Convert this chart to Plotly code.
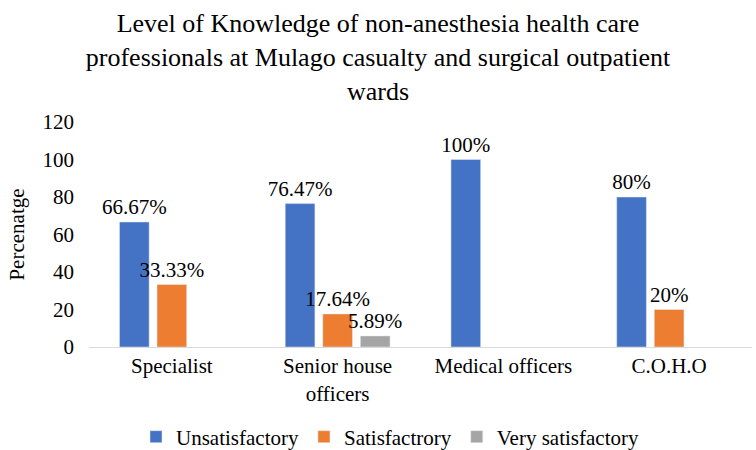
import plotly.graph_objects as go

categories = ["Specialist", "Senior house<br>officers", "Medical officers", "C.O.H.O"]
unsatisfactory = [66.67, 76.47, 100, 80]
satisfactory = [33.33, 17.64, None, 20]
very_satisfactory = [None, 5.89, None, None]

unsat_labels = ["66.67%", "76.47%", "100%", "80%"]
sat_labels = ["33.33%", "17.64%", "", "20%"]
very_labels = ["", "5.89%", "", ""]

y_ticks = [0, 20, 40, 60, 80, 100, 120]

font_name = "Liberation Serif, Times New Roman, serif"

fig = go.Figure()
series = [
    ("Unsatisfactory", unsatisfactory, unsat_labels, "#4472C4"),
    ("Satisfactrory", satisfactory, sat_labels, "#ED7D31"),
    ("Very satisfactory", very_satisfactory, very_labels, "#A5A5A5"),
]
for name, vals, labels, color in series:
    fig.add_trace(
        go.Bar(
            name=name,
            x=categories,
            y=vals,
            text=labels,
            textposition="outside",
            constraintext="none",
            textfont=dict(family=font_name, size=21, color="#000000"),
            marker=dict(color=color),
            cliponaxis=False,
        )
    )

fig.update_layout(
    width=756,
    height=450,
    barmode="group",
    bargap=0.32,
    bargroupgap=0.21,
    plot_bgcolor="white",
    paper_bgcolor="white",
    font=dict(family=font_name, size=20, color="#000000"),
    title=dict(
        text="Level of Knowledge of non-anesthesia health care<br>"
        "professionals at Mulago casualty and surgical outpatient<br>wards",
        x=0.5,
        xanchor="center",
        xref="container",
        yref="container",
        y=1 - 32 / 450,
        yanchor="middle",
        font=dict(family=font_name, size=26, color="#000000"),
    ),
    margin=dict(l=89, r=4, t=122, b=103, autoexpand=False),
    legend=dict(
        orientation="h",
        xref="container",
        x=390 / 756,
        xanchor="center",
        yref="container",
        y=1 - 437 / 450,
        yanchor="middle",
        font=dict(family=font_name, size=21),
        itemwidth=30,
    ),
)
fig.update_xaxes(
    showline=True,
    linecolor="#D9D9D9",
    linewidth=1,
    tickfont=dict(family=font_name, size=21),
    ticks="",
    automargin=False,
)
fig.update_yaxes(
    range=[0, 120],
    tickvals=y_ticks,
    showgrid=False,
    zeroline=False,
    showline=False,
    ticks="",
    ticklabelstandoff=14,
    automargin=False,
    tickfont=dict(family=font_name, size=21),
    title=dict(text="Percenatge", font=dict(family=font_name, size=21), standoff=12),
)

# page has a default 8px body margin; drop it so the figure sits at the corner
fig.write_html(
    "out.html",
    config={"displayModeBar": False},
    post_script="document.body.style.margin='0';",
)
